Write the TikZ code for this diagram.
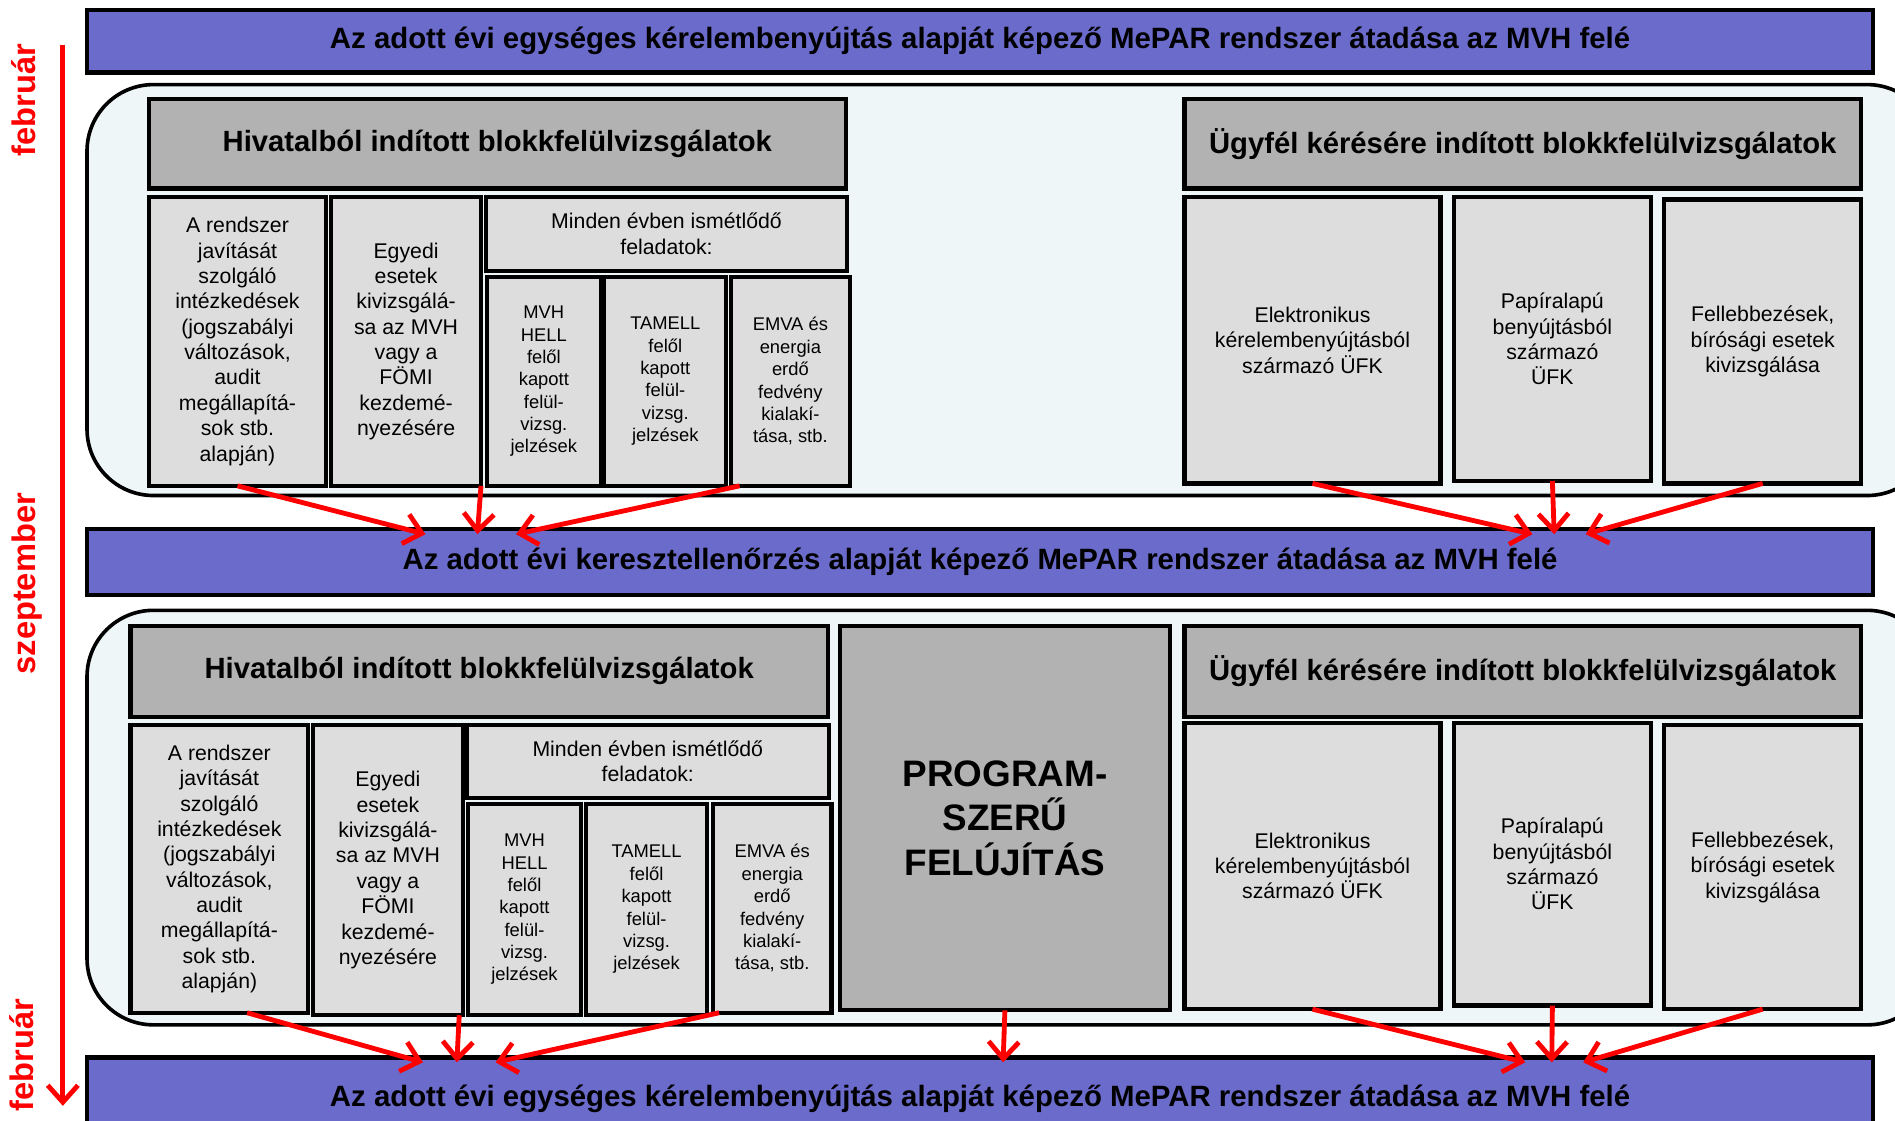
\documentclass[tikz,border=0pt]{standalone}
\usepackage{fontspec}
\setmainfont{Liberation Sans}
\usepackage{xcolor}
\usetikzlibrary{calc,arrows.meta}
\definecolor{barblue}{HTML}{6B6BCC}
\definecolor{headgrey}{HTML}{B2B2B2}
\definecolor{boxgrey}{HTML}{DDDDDD}
\definecolor{panelfill}{HTML}{EEF6F8}

\begin{document}
\begin{tikzpicture}[x=1pt,y=-1pt,
  bar/.style={draw=black,line width=3.5pt,fill=barblue,inner sep=0pt,outer sep=0pt,font=\bfseries\fontsize{24.3}{29}\selectfont},
  head/.style={draw=black,line width=3.5pt,fill=headgrey,inner sep=0pt,outer sep=0pt,font=\bfseries\fontsize{24.2}{28}\selectfont},
  cell/.style={draw=black,line width=3.5pt,fill=boxgrey,inner sep=0pt,outer sep=0pt,align=center,font=\fontsize{17.6}{21}\selectfont},
  thin/.style={cell,font=\fontsize{15.2}{18.5}\selectfont},
  panel/.style={draw=black,line width=3pt,fill=panelfill,rounded corners=55pt},
  redarrow/.style={draw=red,line width=4pt,-{Straight Barb[length=14pt,width=25pt]}},
  month/.style={rotate=90,text=red,font=\bfseries\fontsize{27}{32}\selectfont}]
\newcommand{\drawbox}[7]{\node[#6,anchor=north west,minimum width=#4-#2,minimum height=#5-#3] (#1) at (#2,#3) {#7};}
\useasboundingbox (0,0) rectangle (1568,927);
\coordinate (ttop) at (52,37);
\coordinate (tbot) at (52,915);
\draw[redarrow] (ttop) -- (tbot);
\node[month] (feb1) at (20,83) {február};
\node[month] (szept) at (22,483) {szeptember};
\node[month] (feb2) at (18,873) {február};
\drawbox{top}{72}{8}{1550}{60}{bar}{Az adott évi egységes kérelembenyújtás alapját képező MePAR rendszer átadása az MVH felé}
\drawbox{mid}{72}{438}{1550}{492}{bar}{Az adott évi keresztellenőrzés alapját képező MePAR rendszer átadása az MVH felé}
\drawbox{bot}{72}{875}{1550}{943}{bar}{Az adott évi egységes kérelembenyújtás alapját képező MePAR rendszer átadása az MVH felé}
\draw[panel] (72,70) rectangle (1600,410);
\draw[panel] (72,505) rectangle (1600,848);
\drawbox{uhiv}{123}{82}{700}{156}{head}{Hivatalból indított blokkfelülvizsgálatok}
\drawbox{ua}{123}{163}{270}{402}{cell}{A rendszer\\javítását\\szolgáló\\intézkedések\\(jogszabályi\\változások,\\audit\\megállapítá-\\sok stb.\\alapján)}
\drawbox{ub}{274}{163}{398}{402}{cell}{Egyedi\\esetek\\kivizsgálá-\\sa az MVH\\vagy a\\FÖMI\\kezdemé-\\nyezésére}
\drawbox{umin}{402}{163}{701}{224}{cell}{Minden évben ismétlődő\\feladatok:}
\drawbox{umvh}{403}{229}{497}{402}{thin}{MVH\\HELL\\felől\\kapott\\felül-\\vizsg.\\jelzések}
\drawbox{utam}{500}{229}{601}{402}{thin}{TAMELL\\felől\\kapott\\felül-\\vizsg.\\jelzések}
\drawbox{uemva}{605}{229}{703}{402}{thin}{EMVA és\\energia\\erdő\\fedvény\\kialakí-\\tása, stb.}
\drawbox{uugy}{980}{82}{1540}{156}{head}{Ügyfél kérésére indított blokkfelülvizsgálatok}
\drawbox{uelek}{980}{163}{1192}{400}{cell}{Elektronikus\\kérelembenyújtásból\\származó ÜFK}
\drawbox{upap}{1203}{163}{1366}{398}{cell}{Papíralapú\\benyújtásból\\származó\\ÜFK}
\drawbox{ufel}{1377}{165}{1540}{400}{cell}{Fellebbezések,\\bírósági esetek\\kivizsgálása}
\drawbox{lhiv}{108}{518}{685}{593}{head}{Hivatalból indított blokkfelülvizsgálatok}
\drawbox{la}{108}{600}{255}{838}{cell}{A rendszer\\javítását\\szolgáló\\intézkedések\\(jogszabályi\\változások,\\audit\\megállapítá-\\sok stb.\\alapján)}
\drawbox{lb}{259}{600}{383}{840}{cell}{Egyedi\\esetek\\kivizsgálá-\\sa az MVH\\vagy a\\FÖMI\\kezdemé-\\nyezésére}
\drawbox{lmin}{386}{600}{686}{660}{cell}{Minden évben ismétlődő\\feladatok:}
\drawbox{lmvh}{387}{665}{481}{840}{thin}{MVH\\HELL\\felől\\kapott\\felül-\\vizsg.\\jelzések}
\drawbox{ltam}{485}{665}{585}{840}{thin}{TAMELL\\felől\\kapott\\felül-\\vizsg.\\jelzések}
\drawbox{lemva}{590}{665}{688}{838}{thin}{EMVA és\\energia\\erdő\\fedvény\\kialakí-\\tása, stb.}
\drawbox{prog}{695}{518}{968}{836}{head,align=center,font=\bfseries\fontsize{30.5}{36.5}\selectfont}{PROGRAM-\\SZERŰ\\FELÚJÍTÁS}
\drawbox{lugy}{980}{518}{1540}{593}{head}{Ügyfél kérésére indított blokkfelülvizsgálatok}
\drawbox{lelek}{980}{598}{1192}{835}{cell}{Elektronikus\\kérelembenyújtásból\\származó ÜFK}
\drawbox{lpap}{1203}{598}{1366}{832}{cell}{Papíralapú\\benyújtásból\\származó\\ÜFK}
\drawbox{lfel}{1377}{600}{1540}{835}{cell}{Fellebbezések,\\bírósági esetek\\kivizsgálása}
\coordinate (t1) at (352,442);
\coordinate (t2) at (395,442);
\coordinate (t3) at (427,442);
\coordinate (t4) at (1268,442);
\coordinate (t5) at (1286,442);
\coordinate (t6) at (1312,442);
\draw[redarrow] (ua.south) -- (t1);
\draw[redarrow] (ub.south east) -- (t2);
\draw[redarrow] ($(uemva.south west)+(7,0)$) -- (t3);
\draw[redarrow] (uelek.south) -- (t4);
\draw[redarrow] (upap.south) -- (t5);
\draw[redarrow] (ufel.south) -- (t6);
\coordinate (s1) at (350,879);
\coordinate (s2) at (378,879);
\coordinate (s3) at (410,879);
\coordinate (s4) at (830,879);
\coordinate (s5) at (1262,879);
\coordinate (s6) at (1284,879);
\coordinate (s7) at (1310,879);
\draw[redarrow] ($(la.south)+(23,0)$) -- (s1);
\draw[redarrow] ($(lb.south east)+(-3,0)$) -- (s2);
\draw[redarrow] ($(lemva.south west)+(5,0)$) -- (s3);
\draw[redarrow] (prog.south) -- (s4);
\draw[redarrow] (lelek.south) -- (s5);
\draw[redarrow] (lpap.south) -- (s6);
\draw[redarrow] (lfel.south) -- (s7);
\end{tikzpicture}
\end{document}
